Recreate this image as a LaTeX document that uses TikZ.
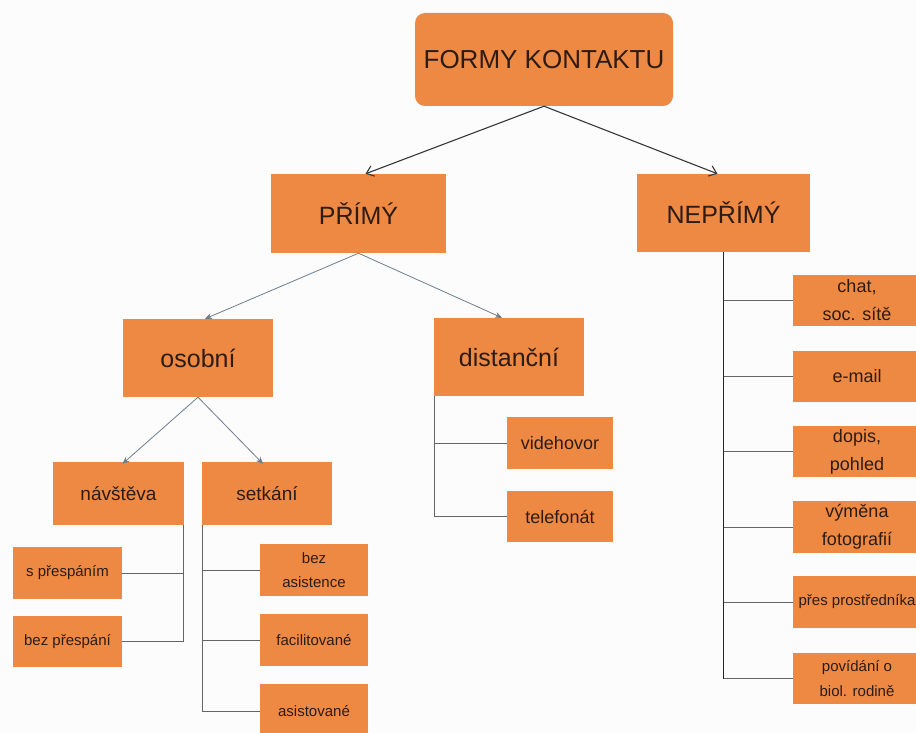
\documentclass[tikz,border=0pt]{standalone}
\usepackage{fontspec}
\setmainfont{Liberation Sans}
\usetikzlibrary{arrows.meta}
\definecolor{boxor}{RGB}{238,137,68}
\definecolor{txt}{RGB}{45,28,20}
\definecolor{toparr}{RGB}{55,55,60}
\definecolor{lowarr}{RGB}{110,125,140}
\definecolor{conn}{RGB}{100,100,105}
\tikzset{
  box/.style={fill=boxor, draw=none, text=txt, align=center, inner sep=0pt, anchor=center},
  fA/.style={font=\fontsize{26}{30}\selectfont},
  fB/.style={font=\fontsize{25}{30}\selectfont},
  fC/.style={font=\fontsize{19}{24}\selectfont},
  fD/.style={font=\fontsize{18}{28}\selectfont},
  fE/.style={font=\fontsize{15}{24}\selectfont},
  toparrow/.style={draw=toparr, line width=1.1pt, -{Straight Barb[length=7pt,width=11pt]}},
  lowarrow/.style={draw=lowarr, line width=0.8pt, -{Stealth[length=7pt,width=6pt]}},
  elbow/.style={draw=conn, line width=0.9pt},
  elbowdark/.style={draw=black!85, line width=1.6pt},
}
\begin{document}
\begin{tikzpicture}[x=1pt,y=-1pt]
\useasboundingbox (0,0) rectangle (916,733);
\clip (0,0) rectangle (916,733);
\fill[white!98!gray] (0,0) rectangle (916,733);
% level 0
\node[box, fA, rounded corners=10pt, minimum width=258pt, minimum height=93pt] (formy) at (544,59.5) {FORMY KONTAKTU};
% level 1
\node[box, fB, minimum width=175pt, minimum height=79pt] (primy) at (358.5,213.5) {PŘÍMÝ};
\node[box, fB, minimum width=173pt, minimum height=78pt] (neprimy) at (723.5,213) {NEPŘÍMÝ};
% level 2
\node[box, fB, minimum width=150pt, minimum height=78pt] (osobni) at (198,358) {osobní};
\node[box, fB, minimum width=150pt, minimum height=78pt] (distancni) at (509,357) {distanční};
% level 3
\node[box, fC, minimum width=131pt, minimum height=63pt] (navsteva) at (118.5,493.5) {návštěva};
\node[box, fC, minimum width=130pt, minimum height=63pt] (setkani) at (267,493.5) {setkání};
% leaves under navsteva
\node[box, fE, minimum width=109pt, minimum height=52pt] (sprespanim) at (67.5,573) {s přespáním};
\node[box, fE, minimum width=109pt, minimum height=51pt] (bezprespani) at (67.5,641.5) {bez přespání};
% leaves under setkani
\node[box, fE, minimum width=108pt, minimum height=52pt] (bezasist) at (314,570) {bez\\asistence};
\node[box, fE, minimum width=108pt, minimum height=52pt] (facilit) at (314,640) {facilitované};
\node[box, fE, minimum width=108pt, minimum height=54pt] (asist) at (314,711) {asistované};
% leaves under distancni
\node[box, fD, minimum width=106pt, minimum height=52pt] (videhovor) at (560,443) {videhovor};
\node[box, fD, minimum width=106pt, minimum height=51pt] (telefonat) at (560,516.5) {telefonát};
% right column
\node[box, fD, minimum width=128pt, minimum height=51pt] (chat) at (857,300.5) {chat,\\soc. sítě};
\node[box, fD, minimum width=128pt, minimum height=51pt] (email) at (857,376.5) {e-mail};
\node[box, fD, minimum width=128pt, minimum height=51pt] (dopis) at (857,451.5) {dopis,\\pohled};
\node[box, fD, minimum width=128pt, minimum height=52pt] (vymena) at (857,527) {výměna\\fotografií};
\node[box, fE, minimum width=128pt, minimum height=52pt] (pres) at (857,602) {přes prostředníka};
\node[box, fE, font=\fontsize{15}{25}\selectfont, minimum width=128pt, minimum height=51pt] (povidani) at (857,678.5) {povídání o\\biol. rodině};
% arrows
\draw[toparrow] (formy.south) -- ([xshift=7pt]primy.north);
\draw[toparrow] (formy.south) -- ([xshift=-6pt]neprimy.north);
\draw[lowarrow] (primy.south) -- ([xshift=7pt]osobni.north);
\draw[lowarrow] (primy.south) -- ([xshift=-7pt]distancni.north);
\draw[lowarrow] (osobni.south) -- ([xshift=4pt,yshift=-2pt]navsteva.north);
\draw[lowarrow] (osobni.south) -- ([xshift=-4pt,yshift=-2pt]setkani.north);
% elbow connectors
\coordinate (nv) at ([xshift=-1pt]navsteva.south east);
\draw[elbow] (nv) |- (bezprespani.east);
\draw[elbow] (nv |- sprespanim.east) -- (sprespanim.east);
\coordinate (sk) at ([xshift=1pt]setkani.south west);
\draw[elbow] (sk) |- (asist.west);
\draw[elbow] (sk |- bezasist.west) -- (bezasist.west);
\draw[elbow] (sk |- facilit.west) -- (facilit.west);
\coordinate (ds) at ([xshift=1pt]distancni.south west);
\draw[elbow] (ds) |- (telefonat.west);
\draw[elbow] (ds |- videhovor.west) -- (videhovor.west);
\draw[elbowdark] (neprimy.south) -- (neprimy.south |- povidani.west);
\draw[elbow] (neprimy.south |- povidani.west) -- (povidani.west);
\draw[elbow] (neprimy.south |- chat.west) -- (chat.west);
\draw[elbow] (neprimy.south |- email.west) -- (email.west);
\draw[elbow] (neprimy.south |- dopis.west) -- (dopis.west);
\draw[elbow] (neprimy.south |- vymena.west) -- (vymena.west);
\draw[elbow] (neprimy.south |- pres.west) -- (pres.west);
\end{tikzpicture}
\end{document}
